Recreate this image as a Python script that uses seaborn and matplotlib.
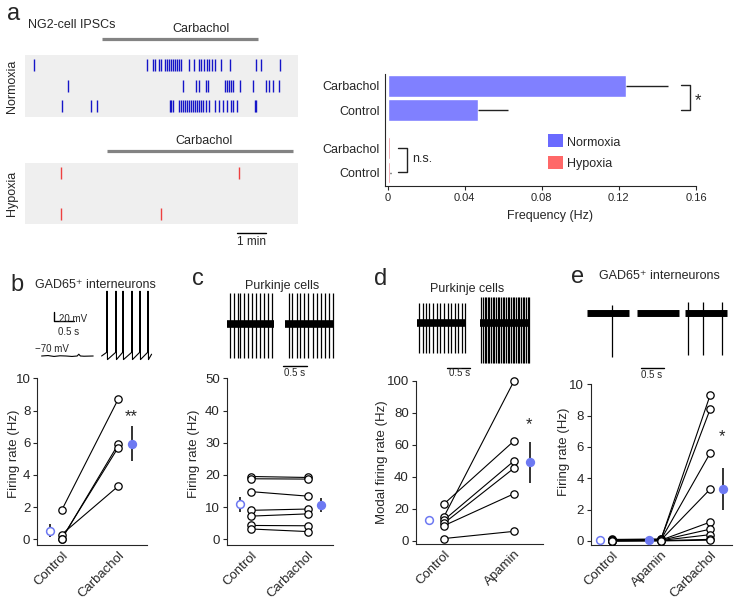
import numpy as np
import pandas as pd
import matplotlib
matplotlib.use("Agg")
import matplotlib.pyplot as plt
from matplotlib.patches import Rectangle
import seaborn as sns

# ---------------- data ----------------
# panel a: raster spike times (min)
norm_row1 = [0.31, 4.20, 4.40, 4.49, 4.63, 4.70, 4.82, 4.89, 4.95, 5.02, 5.09, 5.16, 5.23, 5.30,
             5.38, 5.64, 5.84, 5.99, 6.08, 6.17, 6.27, 6.36, 6.45, 6.54, 6.75, 7.07, 7.97, 8.13, 8.79]
norm_row2 = [1.48, 5.46, 5.89, 5.99, 6.23, 6.31, 6.89, 6.95, 7.02, 7.09, 7.16, 7.41, 7.85, 8.31,
             8.43, 8.56, 8.75]
norm_row3 = [1.28, 2.26, 2.49, 5.00, 5.05, 5.09, 5.30, 5.37, 5.44, 5.51, 5.58, 5.64, 5.71, 5.78,
             5.85, 5.92, 5.99, 6.06, 6.13, 6.24, 6.36, 6.54, 6.68, 6.82, 6.95, 7.09, 7.18, 7.32,
             7.92, 7.97]
hyp_row1 = [1.23, 7.39]
hyp_row2 = []
hyp_row3 = [1.23, 4.68]
carb_norm = [2.64, 8.02]
carb_hyp = [2.84, 9.23]

# panel a: bar chart
bar_labels = ["Carbachol", "Control", "Carbachol", "Control"]
bar_cond = ["Normoxia", "Normoxia", "Hypoxia", "Hypoxia"]
bar_freq = [0.1235, 0.0467, 0.0012, 0.0014]
bar_err = [0.0221, 0.0159, 0.0, 0.0003]

# panel b
b_conds = ["Control", "Carbachol"]
b_ctrl = [1.8, 0.3, 0.0, 0.05]
b_carb = [8.7, 3.3, 5.9, 5.7]
b_mean = [0.55, 5.95]
b_err = [0.42, 1.1]

# panel c
c_conds = ["Control", "Carbachol"]
c_ctrl = [19.5, 18.8, 14.8, 9.0, 7.2, 4.3, 3.2]
c_carb = [19.2, 18.7, 13.4, 9.4, 7.9, 4.2, 2.4]
c_mean = [10.9, 10.7]
c_err = [2.3, 2.2]

# panel d
d_conds = ["Control", "Apamin"]
d_ctrl = [15.0, 23.0, 13.0, 11.0, 9.5, 1.5]
d_apa = [100.0, 62.5, 50.0, 45.5, 29.5, 6.0]
d_mean = [13.0, 49.0]
d_err = [0.0, 12.7]

# panel e
e_conds = ["Control", "Apamin", "Carbachol"]
e_ctrl = [0.10, 0.08, 0.05, 0.05, 0.03, 0.02, 0.0, 0.0, 0.0]
e_apa = [0.10, 0.12, 0.08, 0.06, 0.05, 0.04, 0.03, 0.02, 0.0]
e_carb = [9.3, 8.4, 5.6, 3.3, 1.2, 0.75, 0.4, 0.1, 0.05]
e_mean = [0.03, 0.04, 3.3]
e_err = [0.0, 0.0, 1.35]

# example traces (spike times, s)
b_ctrl_t = [0.29, 0.45, 0.60, 0.75, 0.90, 1.05, 1.18, 1.22, 1.26, 1.35, 1.58]
b_ctrl_v = [-70, -69, -71, -69.5, -70, -71, -70, -66, -70, -70.5, -70]
b_carb_spk = [1.925, 2.15, 2.325, 2.55, 2.75, 2.95]
c_ctrl_spk = [0.214, 0.306, 0.379, 0.435, 0.521, 0.606, 0.685, 0.764, 0.857, 0.949, 1.035, 1.107]
c_carb_spk = [1.478, 1.549, 1.642, 1.713, 1.799, 1.891, 1.985, 2.071, 2.163, 2.248, 2.334, 2.413]
d_ctrl_spk = [0.205, 0.279, 0.352, 0.425, 0.50, 0.588, 0.661, 0.749, 0.837, 0.910, 0.985, 1.057,
              1.145, 1.218]
d_apa_spk = [1.57, 1.60, 1.645, 1.68, 1.72, 1.745, 1.79, 1.83, 1.86, 1.90, 1.94, 1.97, 2.01, 2.05,
             2.08, 2.12, 2.16, 2.19, 2.23, 2.27, 2.30, 2.34, 2.38, 2.41, 2.45, 2.49, 2.52, 2.56,
             2.60, 2.63]
e_seg1_spk = [0.679]
e_seg3_spk = [2.306, 2.627, 3.047]

# ---------------- style ----------------
sns.set_style("ticks")
plt.rcParams["font.family"] = ["Liberation Sans", "DejaVu Sans"]
plt.rcParams["font.size"] = 9
plt.rcParams["axes.linewidth"] = 0.8

BLUE_T = "#1515C8"
RED_T = "#EE4040"
GRAY_BG = "#EFEFEF"
NORM_BAR = "#8080FF"
HYP_BAR = "#EE7F8E"
NORM_LEG = "#6A6AFF"
HYP_LEG = "#FF6868"
MEAN_C = "#6D79F2"

W, H = 737, 601
fig = plt.figure(figsize=(W / 100, H / 100), dpi=100)


def px_axes(x0, y0, x1, y1, **kw):
    return fig.add_axes([x0 / W, 1 - y1 / H, (x1 - x0) / W, (y1 - y0) / H], **kw)


ov = px_axes(0, 0, W, H, zorder=20)
ov.set_xlim(0, W)
ov.set_ylim(H, 0)
ov.axis("off")


def T(x, y, s, size=9, ha="left", va="baseline", **kw):
    ov.text(x, y, s, fontsize=size, ha=ha, va=va, **kw)


# ---------------- panel a: raster ----------------
MIN_PX = 29.0


def raster(y0, y1, rows, color, carb, carb_y):
    ax = px_axes(25, y0, 298, y1)
    ax.set_facecolor(GRAY_BG)
    for s in ax.spines.values():
        s.set_visible(False)
    ax.set_xticks([])
    ax.set_yticks([])
    rowpx = (y1 - y0) / 3
    for i, r in enumerate(rows):
        if len(r):
            ax.eventplot(r, lineoffsets=i, linelengths=0.58, colors=color, linewidths=1.0)
    ax.set_xlim(0, (298 - 25) / MIN_PX)
    ax.set_ylim(2.5, -0.5)
    yy = -0.5 - (y0 - carb_y) / rowpx
    ax.plot(carb, [yy, yy], color="#838383", lw=2.3, clip_on=False, solid_capstyle="butt")
    return ax, rowpx


T(7, 20, "a", size=17)
T(28, 27.5, "NG2-cell IPSCs")
axn, _ = raster(55, 116.7, [norm_row1, norm_row2, norm_row3], BLUE_T, carb_norm, 39.5)
axh, rph = raster(162.7, 224, [hyp_row1, hyp_row2, hyp_row3], RED_T, carb_hyp, 151)
T(201, 32.5, "Carbachol", ha="center")
T(204, 144, "Carbachol", ha="center")
T(12, 86, "Normoxia", ha="center", va="center", rotation=90)
T(12, 193, "Hypoxia", ha="center", va="center", rotation=90)
yb = 2.5 + (232.7 - 224) / rph
axh.plot([7.32, 8.32], [yb, yb], color="k", lw=1.0, clip_on=False)
T(251.7, 245, "1 min", size=8.5, ha="center")

# ---------------- panel a: bars ----------------
axb = px_axes(385, 74, 696, 185.7)
pos = [0, 1, 2.55, 3.55]
df_bar = pd.DataFrame({"pos": pos, "freq": bar_freq, "cond": bar_cond, "label": bar_labels})
sns.barplot(data=df_bar, x="freq", y="pos", hue="cond", orient="h", native_scale=True,
            dodge=False, width=0.89, palette={"Normoxia": NORM_BAR, "Hypoxia": HYP_BAR},
            errorbar=None, saturation=1, legend=False, ax=axb)
axb.errorbar(bar_freq, pos, xerr=[np.zeros(4), bar_err], fmt="none", ecolor="#222222",
             elinewidth=1.0, capsize=0)
axb.set_xlim(-0.0014, 0.16)
axb.set_ylim(4.09, -0.48)
axb.set_yticks(pos)
axb.set_yticklabels(bar_labels, fontsize=9)
axb.set_xticks([0, 0.04, 0.08, 0.12, 0.16])
axb.set_xticklabels(["0", "0.04", "0.08", "0.12", "0.16"], fontsize=8)
axb.tick_params(axis="y", length=0, pad=4)
axb.tick_params(axis="x", length=3, width=0.8, pad=2)
axb.set_xlabel("Frequency (Hz)", fontsize=9)
axb.set_ylabel("")
axb.xaxis.set_label_coords((550 - 385) / 311, -0.22)
sns.despine(ax=axb)

# legend
ov.add_patch(Rectangle((548.3, 134.3), 15, 13, color=NORM_LEG, lw=0))
ov.add_patch(Rectangle((548.3, 156), 15, 13.3, color=HYP_LEG, lw=0))
T(566.7, 145.7, "Normoxia")
T(566.7, 167.3, "Hypoxia")
# brackets
ov.plot([681, 690, 690, 681], [85, 85, 110, 110], color="#222222", lw=1.0)
T(698, 105, "*", size=12, ha="center")
ov.plot([397.7, 407.3, 407.3, 397.7], [147.7, 147.7, 172.3, 172.3], color="#222222", lw=1.0)
T(412, 162.3, "n.s.")


# ---------------- paired panels ----------------
def paired(axp, conds, vals, means, errs, mean_x, xlim, ylim, yticks, ylabel, ylabel_x, ylabel_y):
    rows = []
    for ci, arr in enumerate(vals):
        for cell, v in enumerate(arr):
            rows.append((cell, ci, v))
    df = pd.DataFrame(rows, columns=["cell", "x", "rate"])
    sns.lineplot(data=df, x="x", y="rate", units="cell", estimator=None, color="black",
                 lw=0.8, ax=axp, legend=False)
    sns.scatterplot(data=df, x="x", y="rate", ax=axp, s=28, facecolor="white",
                    edgecolor="black", linewidth=0.9, zorder=3, legend=False, clip_on=False)
    for i, (mx, m, e) in enumerate(zip(mean_x, means, errs)):
        fc = "white" if i == 0 else MEAN_C
        axp.errorbar([mx], [m], yerr=[e] if e > 0 else None, fmt="o", ms=5.6, mfc=fc,
                     mec=MEAN_C, mew=1.1, ecolor="#111111", elinewidth=1.2, capsize=0,
                     zorder=4, clip_on=False)
    axp.set_xlim(*xlim)
    axp.set_ylim(*ylim)
    axp.set_yticks(yticks)
    axp.set_yticklabels([str(t) for t in yticks], fontsize=9.5)
    axp.set_xticks(range(len(conds)))
    axp.set_xticklabels(conds, rotation=45, ha="right", va="top", rotation_mode="anchor",
                        fontsize=9.5)
    axp.tick_params(axis="x", length=0, pad=3)
    axp.tick_params(axis="y", length=3, width=0.8, pad=2)
    axp.set_xlabel("")
    axp.set_ylabel(ylabel, fontsize=9.5)
    axp.yaxis.set_label_coords(ylabel_x, ylabel_y)
    sns.despine(ax=axp)


axB = px_axes(37.3, 378.3, 147, 545)
paired(axB, b_conds, [b_ctrl, b_carb], b_mean, b_err, [-0.21, 1.24], (-0.43, 1.51),
       (-0.35, 10), [0, 2, 4, 6, 8, 10], "Firing rate (Hz)", -0.158, 0.55)
axC = px_axes(226.7, 378.3, 333.3, 545)
paired(axC, c_conds, [c_ctrl, c_carb], c_mean, c_err, [-0.19, 1.23], (-0.43, 1.45),
       (-1.77, 50), [0, 10, 20, 30, 40, 50], "Firing rate (Hz)", -0.25, 0.55)
axD = px_axes(415.7, 380.7, 543, 544)
paired(axD, d_conds, [d_ctrl, d_apa], d_mean, d_err, [-0.21, 1.22], (-0.40, 1.41),
       (-1.9, 100), [0, 20, 40, 60, 80, 100], "Modal firing rate (Hz)", -0.215, 0.5)
axE = px_axes(590.7, 384.3, 731.7, 545)
paired(axE, e_conds, [e_ctrl, e_apa, e_carb], e_mean, e_err, [-0.24, 0.76, 2.26],
       (-0.43, 2.44), (-0.26, 10), [0, 2, 4, 6, 8, 10], "Firing rate (Hz)", -0.147, 0.58)

# significance stars
T(131.7, 421, "**", size=12, ha="center")
T(529.3, 429, "*", size=12, ha="center")
T(721.7, 441, "*", size=12, ha="center")

# ---------------- example traces ----------------
# b
trb = px_axes(30, 280, 160, 370)
trb.axis("off")
trb.set_xlim(0, 130 / 40)
trb.set_ylim(-70 - 14 / 0.45, -70 + 76 / 0.45)
trb.plot(b_ctrl_t, b_ctrl_v, color="k", lw=0.8)
tt, vv = [1.79], [-70]
for s in b_carb_spk:
    tt += [s - 0.01, s, s + 0.012]
    vv += [-62, 74, -78]
tt.append(3.04)
vv.append(-66)
trb.plot(tt, vv, color="k", lw=0.8)
ysb = -70 + (356 - 321) / 0.45
trb.plot([0.6, 0.6, 1.1], [ysb + 20, ysb, ysb], color="k", lw=1.0, clip_on=False)
T(58.7, 322, "20 mV", size=7)
T(58.3, 335, "0.5 s", size=7)
T(35, 352, "\u221270 mV", size=7)
T(10, 290.7, "b", size=17)
T(35, 287.5, "GAD65\u207a interneurons")


def band(ax, t0, t1, spikes, up, down, lw=5.5):
    ax.plot([t0, t1], [0, 0], color="k", lw=lw, solid_capstyle="butt")
    ax.vlines(spikes, down, up, color="k", lw=0.9)


# c
trc = px_axes(220, 285, 340, 365)
trc.axis("off")
trc.set_xlim(0, 120 / 46.7)
trc.set_ylim(-(365 - 324.3), 324.3 - 285)
band(trc, 0.143, 1.163, c_ctrl_spk, 31.3, -33.7)
band(trc, 1.39, 2.43, c_carb_spk, 31.3, -33.7)
trc.plot([1.356, 1.856], [-41.7, -41.7], color="k", lw=1.0, clip_on=False)
T(295, 376, "0.5 s", size=7, ha="center")
T(192, 285, "c", size=17)
T(282, 289.3, "Purkinje cells", ha="center")

# d
trd = px_axes(410, 290, 540, 370)
trd.axis("off")
trd.set_xlim(0, 130 / 45.4)
trd.set_ylim(-(370 - 323.3), 323.3 - 290)
band(trd, 0.148, 1.233, d_ctrl_spk, 20.3, -29.7)
band(trd, 1.542, 2.643, d_apa_spk, 26.6, -39.7)
trd.plot([0.822, 1.322], [-45, -45], color="k", lw=1.0, clip_on=False)
T(460, 376, "0.5 s", size=7, ha="center")
T(374, 285, "d", size=17)
T(466.7, 291.7, "Purkinje cells", ha="center")

# e
tre = px_axes(580, 295, 735, 365)
tre.axis("off")
tre.set_xlim(0, 155 / 46.7)
tre.set_ylim(-(365 - 313.3), 313.3 - 295)
band(tre, 0.15, 1.05, e_seg1_spk, 8.3, -43.7, lw=5)
band(tre, 1.22, 2.12, [], 0, 0, lw=5)
band(tre, 2.25, 3.15, e_seg3_spk, 11.3, -41.7, lw=5)
tre.plot([1.30, 1.80], [-54.4, -54.4], color="k", lw=1.0, clip_on=False)
T(651.7, 378, "0.5 s", size=7, ha="center")
T(571, 283, "e", size=17)
T(599.3, 279.3, "GAD65\u207a interneurons")

fig.savefig("out.png", dpi=100)
